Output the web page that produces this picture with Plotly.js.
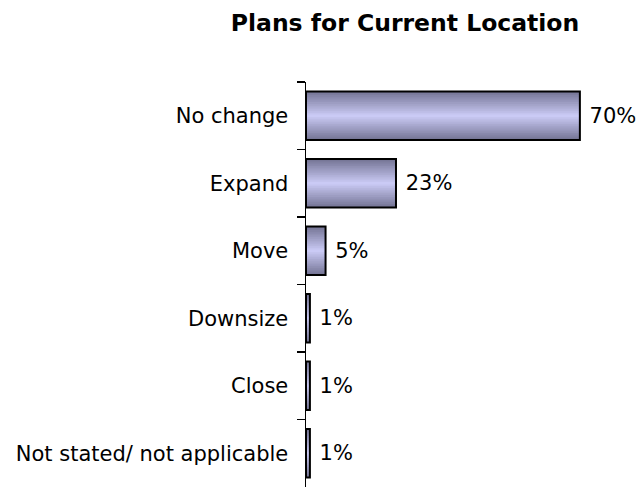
<!DOCTYPE html>
<html>
<head>
<meta charset="utf-8">
<script src="https://cdn.plot.ly/plotly-3.0.1.min.js"></script>
<style>
  html, body { margin: 0; padding: 0; background: #fff; }
  #chart { width: 642px; height: 489px; }
</style>
</head>
<body>
<div id="chart"></div>
<script>
var categories = ['No change', 'Expand', 'Move', 'Downsize', 'Close', 'Not stated/ not applicable'];
var percents = [70, 23, 5, 1, 1, 1];
var labels = ['70%', '23%', '5%', '1%', '1%', '1%'];

window.onload = function () {
	drawPlansChart();
}

function mix(a, b, t) {
	var r = Math.round(a[0] + (b[0] - a[0]) * t);
	var g = Math.round(a[1] + (b[1] - a[1]) * t);
	var bl = Math.round(a[2] + (b[2] - a[2]) * t);
	return 'rgb(' + r + ',' + g + ',' + bl + ')';
}

function drawPlansChart() {
	var target = document.getElementById('chart');
	var edge = [118, 118, 150];
	var centre = [202, 202, 245];
	var steps = 14;
	var fullWidth = 0.72;
	var data = [];

	// stacked overlay of narrower, lighter bars fakes the gradient fill
	for (var i = 0; i < steps; i++) {
		var t = i / (steps - 1);
		data.push({
			y: categories,
			x: percents,
			type: 'bar',
			orientation: 'h',
			width: fullWidth * (1 - t * 0.95),
			marker: {color: mix(edge, centre, t), line: {width: 0}},
			hoverinfo: 'skip',
			showlegend: false
		});
	}

	// outline + labels on top
	data.push({
		y: categories,
		x: percents,
		type: 'bar',
		orientation: 'h',
		width: fullWidth,
		marker: {color: 'rgba(0,0,0,0)', line: {color: '#000', width: 2}},
		text: labels,
		texttemplate: '\u00a0%{text}',
		textposition: 'outside',
		cliponaxis: false,
		textfont: {family: 'DejaVu Sans', size: 21, color: '#000'},
		hoverinfo: 'skip',
		showlegend: false
	});

	var layout = {
		width: 642,
		height: 489,
		margin: {l: 306, r: 23, t: 82, b: 2},
		barmode: 'overlay',
		paper_bgcolor: '#fff',
		plot_bgcolor: '#fff',
		font: {family: 'DejaVu Sans', size: 21, color: '#000'},
		title: {
			text: '<b>Plans for Current Location</b>',
			font: {family: 'DejaVu Sans', size: 23.5, color: '#000'},
			xref: 'container', x: 405 / 642, xanchor: 'center',
			yref: 'container', y: 1 - 23 / 489, yanchor: 'middle'
		},
		xaxis: {range: [0, 80], visible: false, fixedrange: true},
		yaxis: {
			type: 'category',
			range: [5.5, -0.5],
			showline: true,
			linecolor: '#000',
			linewidth: 1.5,
			ticks: 'outside',
			tickson: 'boundaries',
			ticklen: 8,
			tickcolor: '#000',
			tickwidth: 1.5,
			showgrid: false,
			zeroline: false,
			ticklabelstandoff: 12,
			tickfont: {family: 'DejaVu Sans', size: 21, color: '#000'}
		}
	};
	Plotly.newPlot(target, data, layout, {displayModeBar: false, staticPlot: true});
}
</script>
</body>
</html>
